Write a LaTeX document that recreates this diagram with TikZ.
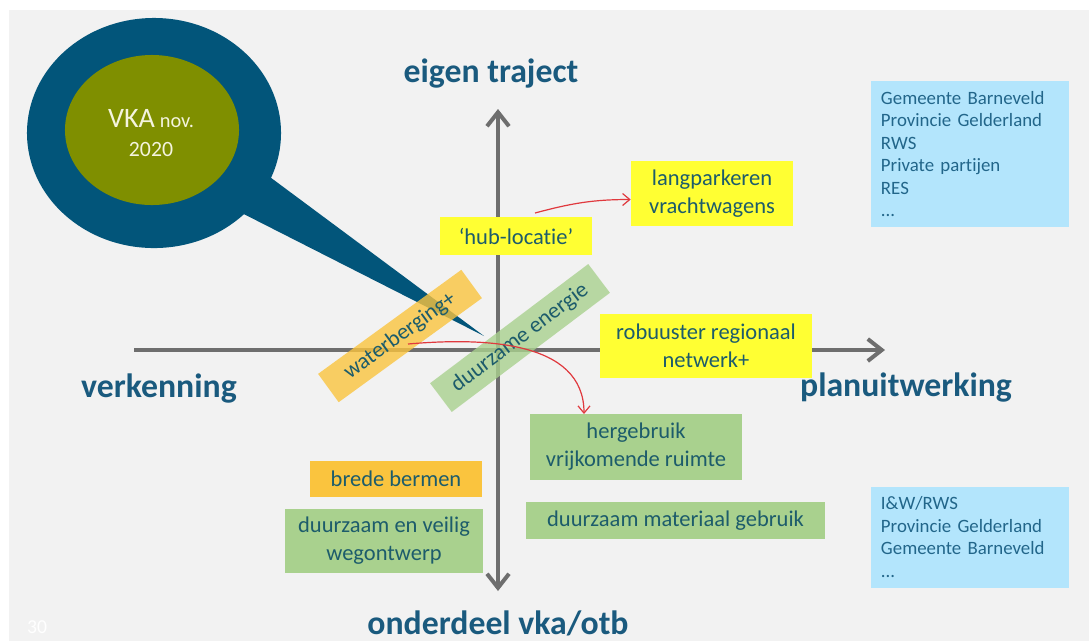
\documentclass[tikz,border=0pt]{standalone}
\usepackage{fontspec}
\setmainfont{Carlito}[Ligatures=NoCommon]
\usepackage{tikz}
\usetikzlibrary{positioning,arrows.meta,shapes.geometric}
\definecolor{slidebg}{HTML}{F2F2F2}
\definecolor{vkablue}{HTML}{02557A}
\definecolor{vkagreen}{HTML}{7F8F00}
\definecolor{vkacream}{HTML}{F4F4DE}
\definecolor{axisgray}{HTML}{6E6E6E}
\definecolor{labelblue}{HTML}{1A5A7E}
\definecolor{boxtext}{HTML}{1D5C6B}
\definecolor{partytext}{HTML}{22668A}
\definecolor{hlyellow}{HTML}{FFFF33}
\definecolor{hlorange}{HTML}{FAC43E}
\definecolor{hlgreen}{HTML}{A9D18E}
\definecolor{hlblue}{HTML}{B3E5FC}
\definecolor{linkred}{HTML}{E0393E}
\tikzset{%
  axis/.style={%
    draw=axisgray,
    line width=1mm,
    >={Straight Barb[length=3.5mm,width=5.5mm]}
  },
  axislabel/.style={%
    text=labelblue,
    font=\fontsize{24}{28}\selectfont\bfseries
  },
  card/.style={%
    rectangle,
    inner sep=0pt,
    align=center,
    text=boxtext,
    font=\fontsize{16}{20}\selectfont
  },
  party/.style={%
    rectangle,
    fill=hlblue,
    inner xsep=0.25cm,
    inner ysep=0pt,
    text width=4.45cm,
    align=left,
    text=partytext,
    font=\fontsize{13.4}{16}\selectfont
  },
  ptr/.style={%
    -{Straight Barb[length=1.8mm,width=3mm]},
    draw=linkred,
    line width=0.3mm
  }
}

\begin{document}
\begin{tikzpicture}[x=0.025cm,y=-0.025cm]
    \useasboundingbox (0,0) rectangle (1089,641);
    \fill[white] (0,0) rectangle (1089,641);
    \fill[slidebg] (9,10) rectangle (1089,641);

    % speech bubble
    \node[ellipse,fill=vkablue,minimum width=6.35cm,minimum height=5.75cm] (bubble) at (154,133) {};
    \coordinate (tip) at (484,336);
    \fill[vkablue] (bubble.-21) -- (tip) -- (bubble.-42) -- (bubble.center) -- cycle;
    \node[ellipse,fill=vkagreen,minimum width=4.35cm,minimum height=3.75cm] (core) at (152,130) {};
    \node[text=vkacream,align=center,font=\fontsize{15.5}{21}\selectfont] (vka) at (151,133)
      {{\fontsize{20}{21}\selectfont VKA} {\fontsize{14.5}{21}\selectfont nov.}\\2020};

    \coordinate (xmin) at (134,350);
    \coordinate (xmax) at (885,350);
    \coordinate (ymax) at (498,109);
    \coordinate (ymin) at (498,591);
    \draw[axis,->] (xmin) -- (xmax);
    \draw[axis,<->] (ymin) -- (ymax);

    \node[card,fill=hlyellow,minimum width=3.8cm,minimum height=0.95cm] (hub) at (516,236) {‘hub-locatie’};
    \node[card,fill=hlyellow,minimum width=4.05cm,minimum height=1.625cm] (lang) at (712,193.5) {langparkeren\\vrachtwagens};
    \node[card,fill=hlyellow,minimum width=5.3cm,minimum height=1.6cm] (robust) at (706,346) {robuuster regionaal\\netwerk+};
    \node[card,fill=hlgreen,minimum width=5.3cm,minimum height=1.65cm] (reuse) at (636,447) {hergebruik\\vrijkomende ruimte};
    \node[card,fill=hlorange,minimum width=4.3cm,minimum height=0.9cm] (verge) at (396,479) {brede bermen};
    \node[card,fill=hlgreen,minimum width=4.95cm,minimum height=1.6cm] (design) at (384,541) {duurzaam en veilig\\wegontwerp};
    \node[card,fill=hlgreen,minimum width=7.475cm,minimum height=0.925cm] (material) at (675.5,520.5) {duurzaam materiaal gebruik};

    \node[card,fill=hlorange,fill opacity=0.8,text opacity=1,rotate=36,minimum width=4.425cm,minimum height=0.875cm] (water) at (400,336) {waterberging+};
    \node[card,fill=hlgreen,fill opacity=0.8,text opacity=1,rotate=37,minimum width=4.95cm,minimum height=0.9cm] (energy) at (520,338) {duurzame energie};

    \node[party,minimum height=3.65cm] (ownparties) at (970,154)
      {Gemeente Barneveld\\Provincie Gelderland\\RWS\\Private partijen\\RES\\...};
    \node[party,minimum height=2.525cm] (vkaparties) at (970,537)
      {I\&W/RWS\\Provincie Gelderland\\Gemeente Barneveld\\...};

    \coordinate (hubout) at (535,213);
    \draw[ptr] (hubout) to[out=15,in=180] ([yshift=-0.15cm]lang.west);
    \coordinate (waterout) at (408,344);
    \coordinate (reusein) at (584,414);
    \draw[ptr] (waterout) to[out=5,in=90] (reusein);

    \node[axislabel,anchor=base] (own) at (491,82) {eigen traject};
    \node[axislabel,anchor=base] (part) at (498,634) {onderdeel vka/otb};
    \node[axislabel,anchor=base] (explore) at (159,397) {verkenning};
    \node[axislabel,anchor=base] (plan) at (906,396) {planuitwerking};
    \node[text=white,font=\fontsize{14}{16}\selectfont] (page) at (37,627) {30};
\end{tikzpicture}
\end{document}
